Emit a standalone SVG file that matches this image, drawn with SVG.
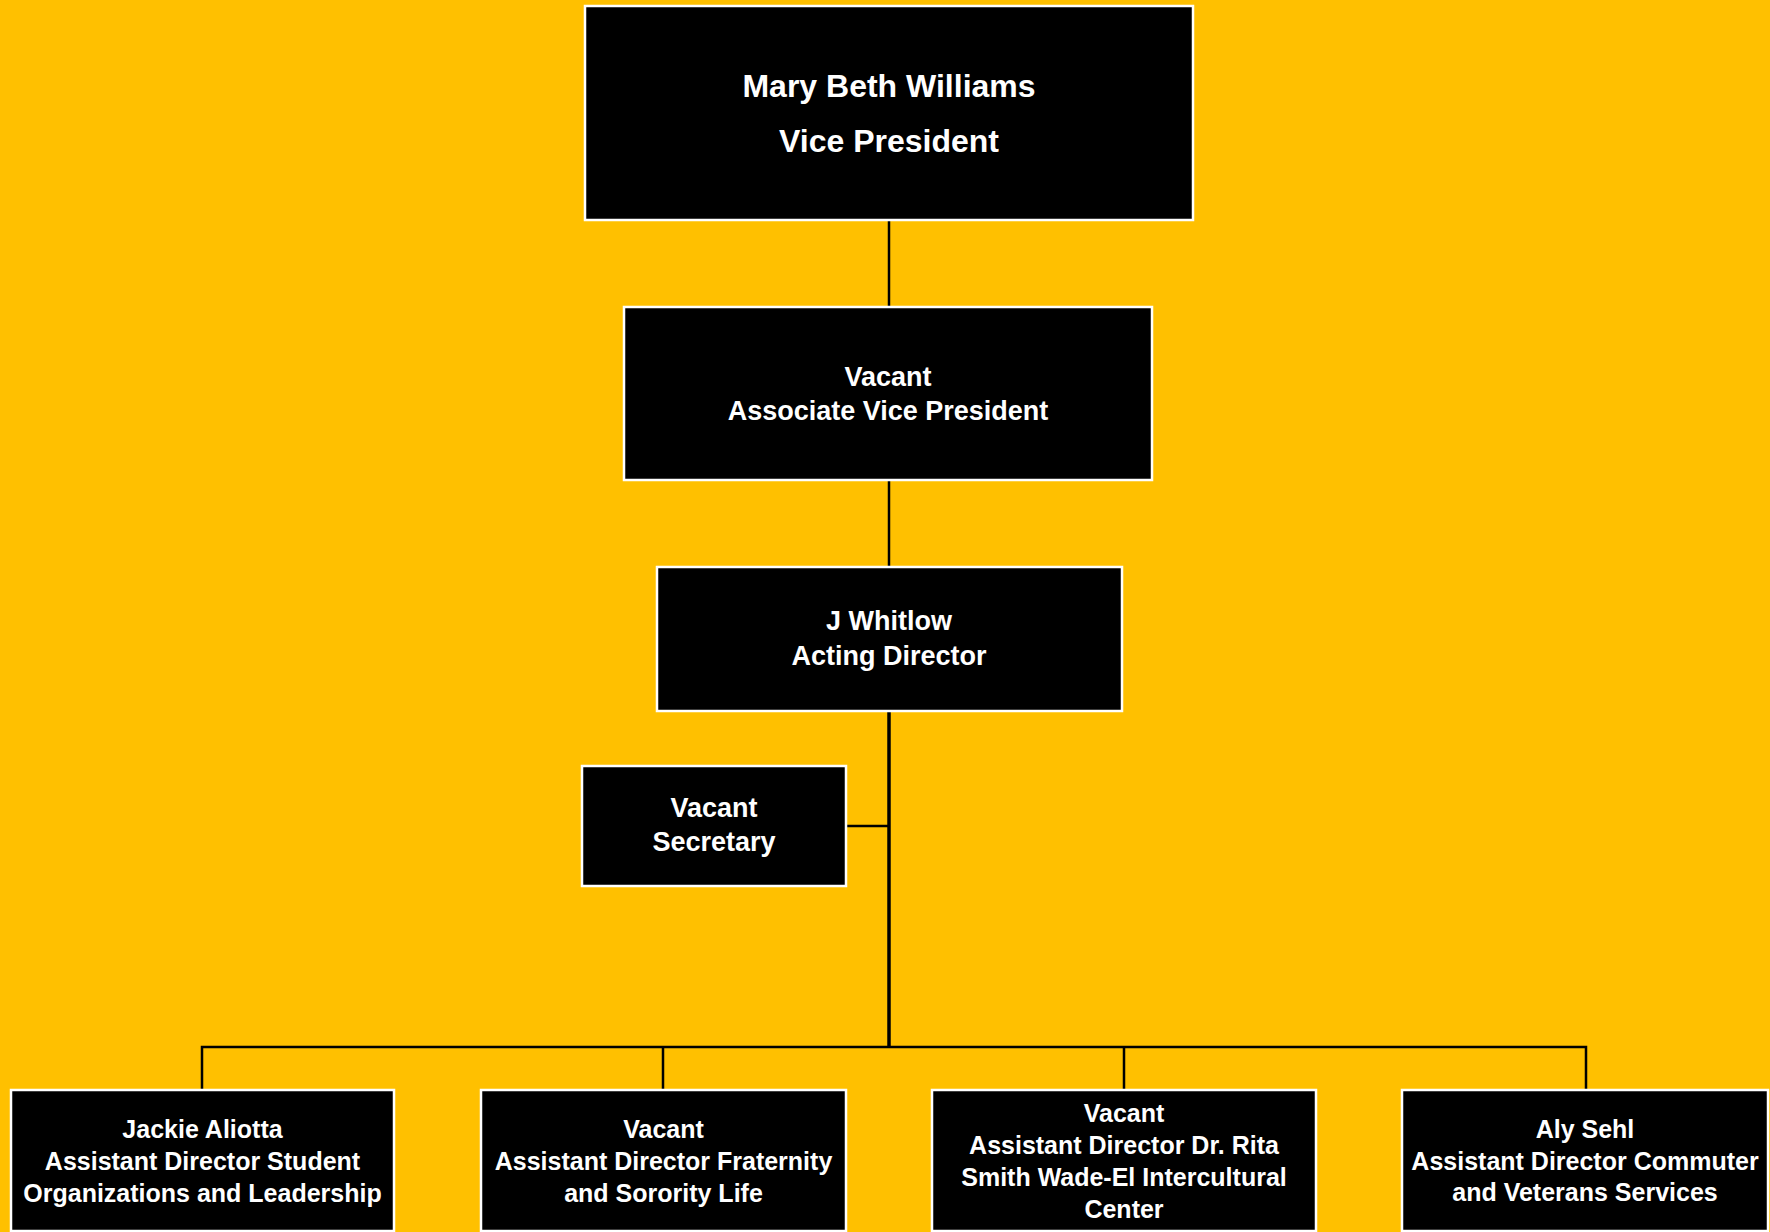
<svg xmlns="http://www.w3.org/2000/svg" width="1770" height="1232" viewBox="0 0 1770 1232">
<style>
.box{fill:#000;stroke:#fff;stroke-width:2.5}
.t{fill:#fff;font-family:"Liberation Sans",Arial,sans-serif;font-weight:bold;text-anchor:middle}
.t32{font-size:32px}
.t27{font-size:27px}
.t25{font-size:25px}
.ln{stroke:#000;stroke-width:2.5;fill:none}
.trunk{stroke:#000;stroke-width:3.5;fill:none}
</style>
<rect x="0" y="0" width="1770" height="1232" fill="#FFC000"/>
<g id="connectors">
<line class="ln" x1="889" y1="220" x2="889" y2="307"/>
<line class="ln" x1="889" y1="480" x2="889" y2="567"/>
<line class="trunk" x1="889" y1="711" x2="889" y2="1047"/>
<line class="ln" x1="846" y1="826" x2="889" y2="826"/>
<polyline class="ln" points="202,1090 202,1047 1586,1047 1586,1090"/>
<line class="ln" x1="663" y1="1047" x2="663" y2="1090"/>
<line class="ln" x1="1124" y1="1047" x2="1124" y2="1090"/>
</g>
<g id="vp">
<rect class="box" x="585" y="6" width="608" height="214"/>
<text class="t t32" x="889" y="97">Mary Beth Williams</text>
<text class="t t32" x="889" y="152">Vice President</text>
</g>
<g id="avp">
<rect class="box" x="624" y="307" width="528" height="173"/>
<text class="t t27" x="888" y="386">Vacant</text>
<text class="t t27" x="888" y="420">Associate Vice President</text>
</g>
<g id="director">
<rect class="box" x="657" y="567" width="465" height="144"/>
<text class="t t27" x="889" y="630">J Whitlow</text>
<text class="t t27" x="889" y="665">Acting Director</text>
</g>
<g id="secretary">
<rect class="box" x="582" y="766" width="264" height="120"/>
<text class="t t27" x="714" y="817">Vacant</text>
<text class="t t27" x="714" y="851">Secretary</text>
</g>
<g id="ad-student-orgs">
<rect class="box" x="11" y="1090" width="383" height="141"/>
<text class="t t25" x="202.5" y="1138">Jackie Aliotta</text>
<text class="t t25" x="202.5" y="1170">Assistant Director Student</text>
<text class="t t25" x="202.5" y="1202">Organizations and Leadership</text>
</g>
<g id="ad-fsl">
<rect class="box" x="481" y="1090" width="365" height="141"/>
<text class="t t25" x="663.5" y="1138">Vacant</text>
<text class="t t25" x="663.5" y="1170">Assistant Director Fraternity</text>
<text class="t t25" x="663.5" y="1202">and Sorority Life</text>
</g>
<g id="ad-intercultural">
<rect class="box" x="932" y="1090" width="384" height="141"/>
<text class="t t25" x="1124" y="1122">Vacant</text>
<text class="t t25" x="1124" y="1154">Assistant Director Dr. Rita</text>
<text class="t t25" x="1124" y="1186">Smith Wade-El Intercultural</text>
<text class="t t25" x="1124" y="1218">Center</text>
</g>
<g id="ad-commuter">
<rect class="box" x="1402" y="1090" width="366" height="141"/>
<text class="t t25" x="1585" y="1138">Aly Sehl</text>
<text class="t t25" x="1585" y="1170">Assistant Director Commuter</text>
<text class="t t25" x="1585" y="1201">and Veterans Services</text>
</g>
</svg>
